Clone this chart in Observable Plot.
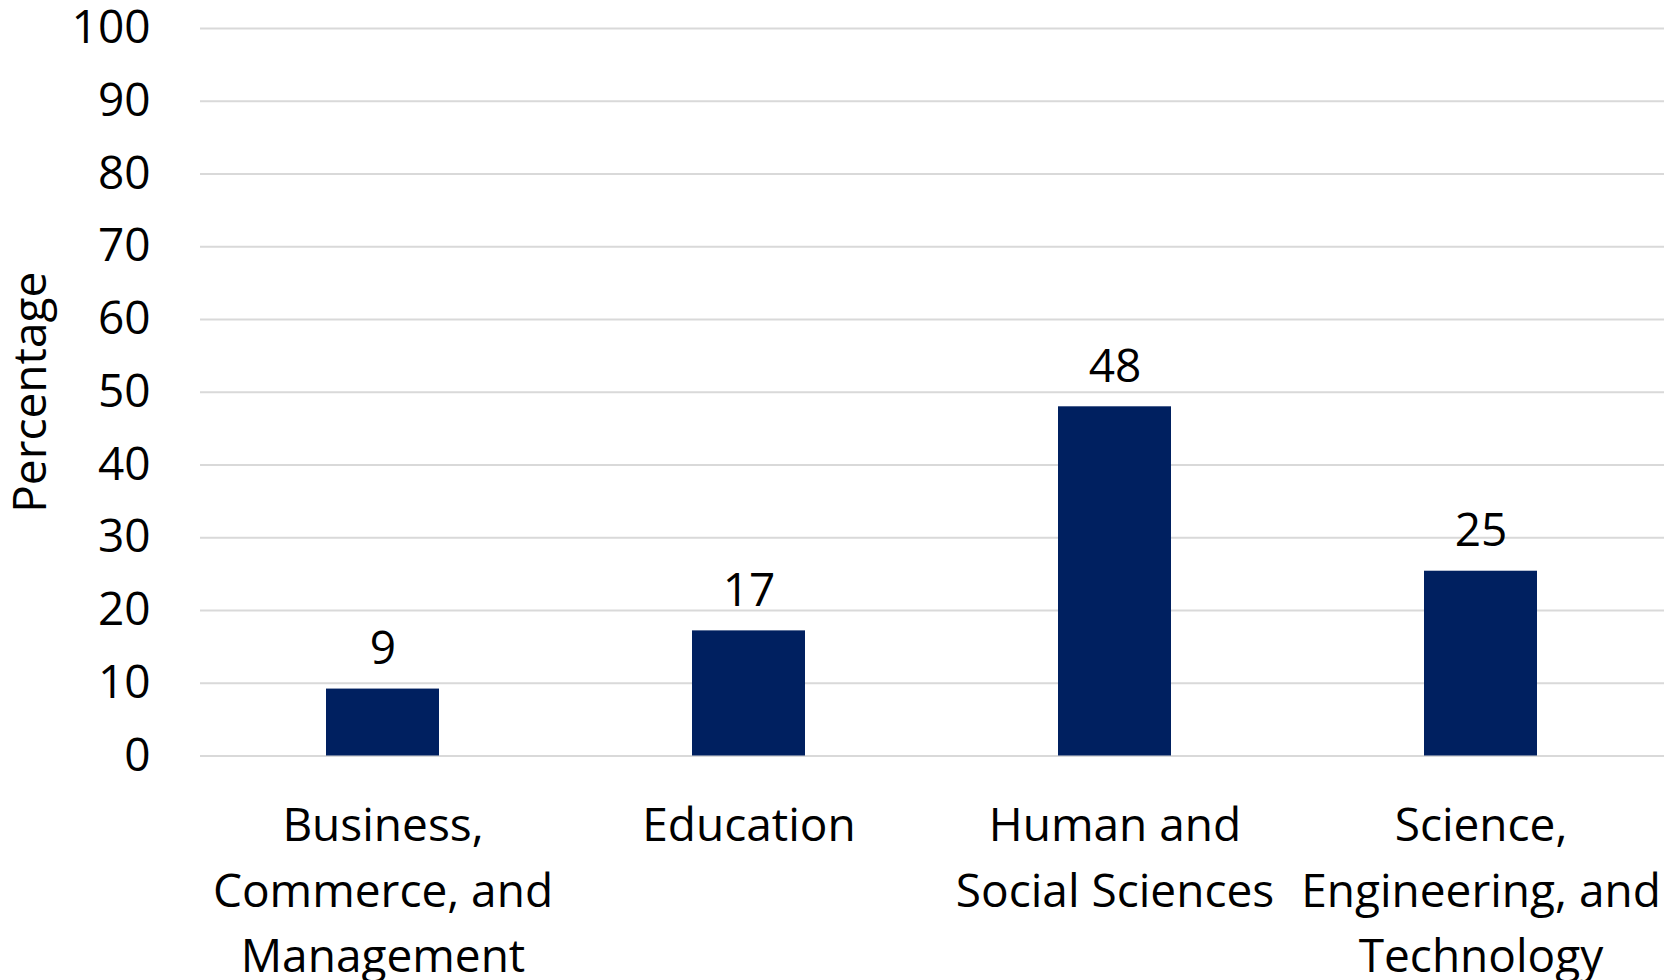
<!DOCTYPE html>
<html>
<head>
<meta charset="utf-8">
<script src="https://cdn.jsdelivr.net/npm/d3@7"></script>
<script src="https://cdn.jsdelivr.net/npm/@observablehq/plot@0.6"></script>
<style>
  html, body { margin: 0; padding: 0; background: #ffffff; }
  #chart svg { display: block; }
</style>
</head>
<body>
<div id="chart"></div>
<script>
const categories = [
  "Business, Commerce, and Management",
  "Education",
  "Human and Social Sciences",
  "Science, Engineering, and Technology"
];
const tickLabels = [
  "Business,\nCommerce, and\nManagement",
  "Education",
  "Human and\nSocial Sciences",
  "Science,\nEngineering, and\nTechnology"
];
const values = [9.2, 17.2, 48.0, 25.4];
const valueLabels = ["9", "17", "48", "25"];
const yTicks = [0, 10, 20, 30, 40, 50, 60, 70, 80, 90, 100];
const yLabel = "Percentage";

const data = categories.map((c, i) => ({category: c, value: values[i], label: valueLabels[i]}));
const tickLabelOf = new Map(categories.map((c, i) => [c, tickLabels[i]]));

const FONT = "'Open Sans', 'Noto Sans', sans-serif";

const chart = Plot.plot({
  width: 1676,
  height: 980,
  marginTop: 28,
  marginBottom: 224.5,
  marginLeft: 200,
  marginRight: 12,
  style: {fontFamily: FONT, fontSize: "46px", color: "#000000", background: "#ffffff", overflow: "visible"},
  x: {domain: categories, paddingInner: 0.69, paddingOuter: 0.345, label: null},
  y: {domain: [0, 100], label: null},
  marks: [
    Plot.gridY(yTicks, {stroke: "#d9d9d9", strokeWidth: 2, strokeOpacity: 1}),
    Plot.barY(data, {x: "category", y: "value", fill: "#002060"}),
    Plot.text(data, {x: "category", y: "value", text: "label", lineAnchor: "bottom", dy: -25, fill: "#000000", fontSize: 46, fontFamily: FONT}),
    Plot.axisY({ticks: yTicks, tickSize: 0, tickPadding: 50, fontSize: 46, fontFamily: FONT,
      label: yLabel, labelAnchor: "center", labelOffset: 187, labelArrow: "none"}),
    Plot.axisX({tickSize: 0, tickPadding: 39, fontSize: 46, fontFamily: FONT, lineHeight: 1.42,
      tickFormat: d => tickLabelOf.get(d), label: null})
  ]
});
document.getElementById("chart").appendChild(chart);
</script>
</body>
</html>
